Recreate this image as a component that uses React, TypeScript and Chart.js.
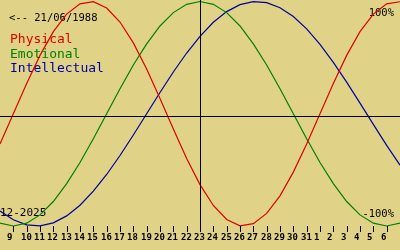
import React, { useEffect, useRef } from "react";
import { Chart, registerables } from "chart.js";

Chart.register(...registerables);

// Days shown: 8 Dec 2025 .. 7 Jan 2026 (index 15 = 23 Dec, the marked day)
const dayLabels = [
  "8", "9", "10", "11", "12", "13", "14", "15", "16", "17", "18", "19", "20", "21", "22",
  "23", "24", "25", "26", "27", "28", "29", "30", "31", "1", "2", "3", "4", "5", "6", "7",
];

const physical = [
  -0.27, 0.0, 0.27, 0.52, 0.731, 0.888, 0.979, 0.998, 0.942, 0.817, 0.631, 0.398, 0.136,
  -0.136, -0.398, -0.631, -0.817, -0.942, -0.998, -0.979, -0.888, -0.731, -0.52, -0.27,
  0.0, 0.27, 0.52, 0.731, 0.888, 0.979, 0.998,
];

const emotional = [
  -0.975, -1.0, -0.975, -0.901, -0.782, -0.623, -0.434, -0.223, 0.0, 0.223, 0.434, 0.623,
  0.782, 0.901, 0.975, 1.0, 0.975, 0.901, 0.782, 0.623, 0.434, 0.223, 0.0, -0.223, -0.434,
  -0.623, -0.782, -0.901, -0.975, -1.0, -0.975,
];

const intellectual = [
  -0.866, -0.945, -0.99, -0.999, -0.972, -0.91, -0.815, -0.69, -0.541, -0.372, -0.189, 0.0,
  0.189, 0.372, 0.541, 0.69, 0.815, 0.91, 0.972, 0.999, 0.99, 0.945, 0.866, 0.756, 0.618,
  0.458, 0.282, 0.095, -0.095, -0.282, -0.458,
];

const seriesNames = ["Physical", "Emotional", "Intellectual"];
const birthLabel = "<-- 21/06/1988";
const monthLabel = "12-2025";
const topLabel = "100%";
const bottomLabel = "-100%";
const markedIndex = 15;

const BG = "#E0D388";
const COLORS = ["#DD0000", "#008000", "#0000A0"];
const MONO = '"DejaVu Sans Mono", monospace';

export default function App() {
  const ref = useRef<HTMLCanvasElement | null>(null);

  useEffect(() => {
    document.body.style.margin = "0";
    const canvas = ref.current;
    if (!canvas) return;

    const decor = {
      id: "decor",
      beforeDraw(chart: any) {
        const c = chart.ctx;
        c.save();
        c.fillStyle = BG;
        c.fillRect(0, 0, chart.width, chart.height);
        c.restore();
      },
      beforeDatasetsDraw(chart: any) {
        const c = chart.ctx;
        c.save();
        c.textAlign = "left";
        c.textBaseline = "alphabetic";
        c.fillStyle = "#000";
        c.font = `10.5px ${MONO}`;
        c.fillText(birthLabel, 9, 21);
        c.font = `13px ${MONO}`;
        const ys = [43, 57.6, 72.4];
        seriesNames.forEach((n, i) => {
          c.fillStyle = COLORS[i];
          c.fillText(n, 10, ys[i]);
        });
        c.fillStyle = "#000";
        c.font = `10.5px ${MONO}`;
        c.textAlign = "right";
        c.fillText(topLabel, 394, 16);
        c.fillText(bottomLabel, 394, 217);
        c.textAlign = "left";
        c.font = `11px ${MONO}`;
        c.fillText(monthLabel, 0, 216);
        c.restore();
      },
      afterDatasetsDraw(chart: any) {
        const c = chart.ctx;
        const xs = chart.scales.x;
        const yS = chart.scales.y;
        c.save();
        c.fillStyle = "#000";
        // horizontal axis
        const y0 = Math.round(yS.getPixelForValue(-0.02));
        c.fillRect(0, y0, chart.width, 1);
        // vertical marker at current day
        const xm = Math.round(xs.getPixelForValue(markedIndex));
        c.fillRect(xm, 0, 1, 232);
        // ticks and day labels
        c.font = `bold 9px ${MONO}`;
        c.textAlign = "left";
        c.textBaseline = "alphabetic";
        for (let i = 1; i < dayLabels.length - 1; i++) {
          const x = Math.round(xs.getPixelForValue(i));
          c.fillRect(x, 226, 1, 6);
          c.fillText(dayLabels[i], x - 6, 240);
        }
        c.restore();
      },
    };

    const mk = (data: number[], color: string, label: string) => ({
      label,
      data,
      borderColor: color,
      backgroundColor: color,
      borderWidth: 1.2,
      pointRadius: 0,
      tension: 0,
      fill: false,
    });

    const chart = new Chart(canvas, {
      type: "line",
      data: {
        labels: dayLabels,
        datasets: [
          mk(physical, COLORS[0], seriesNames[0]),
          mk(emotional, COLORS[1], seriesNames[1]),
          mk(intellectual, COLORS[2], seriesNames[2]),
        ],
      },
      options: {
        responsive: false,
        animation: false,
        devicePixelRatio: 1,
        layout: { padding: 0 },
        plugins: { legend: { display: false }, tooltip: { enabled: false } },
        scales: {
          x: { type: "category", display: false, offset: false },
          y: { type: "linear", display: false, min: -1.2138, max: 1.01336 },
        },
      },
      plugins: [decor],
    });

    return () => chart.destroy();
  }, []);

  return <canvas ref={ref} width={400} height={250} style={{ display: "block" }} />;
}
